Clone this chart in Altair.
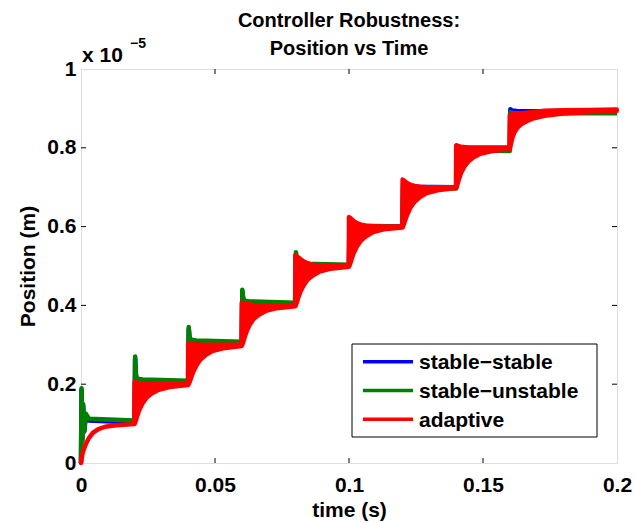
import altair as alt
import pandas as pd

# ---------------- data (position in units of 1e-5 m, time in s) ----------------
step_times = [0.0, 0.02, 0.04, 0.06, 0.08, 0.10, 0.12, 0.14, 0.16]
t_end = 0.2

# time offsets after each step for the two "stable" controllers
line_off = [0, 0.0002, 0.0005, 0.0008, 0.0012, 0.0018, 0.003, 0.0199]
blue_steps = [
    [0.000, 0.185, 0.060, 0.145, 0.080, 0.120, 0.108, 0.103],
    [0.103, 0.265, 0.220, 0.210, 0.208, 0.207, 0.206, 0.203],
    [0.203, 0.340, 0.315, 0.310, 0.308, 0.307, 0.306, 0.303],
    [0.303, 0.435, 0.415, 0.410, 0.407, 0.406, 0.405, 0.402],
    [0.402, 0.530, 0.512, 0.507, 0.505, 0.504, 0.503, 0.501],
    [0.501, 0.612, 0.608, 0.605, 0.603, 0.602, 0.601, 0.600],
    [0.600, 0.708, 0.705, 0.704, 0.703, 0.702, 0.701, 0.700],
    [0.700, 0.806, 0.804, 0.803, 0.802, 0.801, 0.800, 0.800],
    [0.800, 0.898, 0.896, 0.895, 0.894, 0.894, 0.893, 0.893],
]
blue_end = 0.893
green_steps = [
    [0.000, 0.190, 0.055, 0.150, 0.080, 0.125, 0.112, 0.108],
    [0.108, 0.270, 0.225, 0.216, 0.214, 0.213, 0.212, 0.209],
    [0.209, 0.345, 0.320, 0.315, 0.313, 0.312, 0.311, 0.308],
    [0.308, 0.440, 0.420, 0.415, 0.412, 0.411, 0.410, 0.407],
    [0.407, 0.535, 0.515, 0.510, 0.508, 0.507, 0.506, 0.503],
    [0.503, 0.615, 0.610, 0.606, 0.604, 0.603, 0.602, 0.600],
    [0.600, 0.705, 0.703, 0.702, 0.701, 0.700, 0.700, 0.697],
    [0.697, 0.800, 0.798, 0.797, 0.796, 0.795, 0.794, 0.792],
    [0.792, 0.890, 0.889, 0.889, 0.888, 0.888, 0.888, 0.888],
]
green_end = 0.888

# adaptive controller: oscillation envelope (lower / upper) after each step
red_off = [0, 0.0005, 0.001, 0.0018, 0.003, 0.0045, 0.0065, 0.009, 0.013, 0.0199, 0.0299, 0.0399]
red_lo_steps = [
    [0.000, 0.022, 0.034, 0.048, 0.064, 0.077, 0.086, 0.092, 0.096, 0.099],
    [0.099, 0.108, 0.120, 0.136, 0.152, 0.166, 0.177, 0.186, 0.193, 0.198],
    [0.198, 0.205, 0.215, 0.230, 0.247, 0.262, 0.274, 0.284, 0.291, 0.297],
    [0.297, 0.306, 0.318, 0.334, 0.352, 0.366, 0.377, 0.386, 0.393, 0.398],
    [0.398, 0.407, 0.418, 0.434, 0.450, 0.465, 0.476, 0.486, 0.493, 0.498],
    [0.498, 0.507, 0.518, 0.534, 0.550, 0.565, 0.576, 0.586, 0.593, 0.598],
    [0.598, 0.606, 0.617, 0.632, 0.649, 0.663, 0.675, 0.685, 0.692, 0.698],
    [0.698, 0.708, 0.720, 0.736, 0.752, 0.765, 0.776, 0.785, 0.791, 0.797],
    [0.797, 0.812, 0.826, 0.840, 0.852, 0.861, 0.868, 0.875, 0.881, 0.887, 0.891, 0.894],
]
red_hi_steps = [
    [0.000, 0.022, 0.034, 0.048, 0.064, 0.077, 0.086, 0.092, 0.096, 0.099],
    [0.205, 0.205, 0.204, 0.203, 0.202, 0.201, 0.200, 0.200, 0.200, 0.200],
    [0.304, 0.304, 0.303, 0.302, 0.301, 0.300, 0.300, 0.300, 0.300, 0.300],
    [0.407, 0.406, 0.405, 0.404, 0.402, 0.401, 0.400, 0.400, 0.400, 0.400],
    [0.527, 0.525, 0.522, 0.518, 0.512, 0.507, 0.503, 0.501, 0.500, 0.500],
    [0.624, 0.622, 0.619, 0.614, 0.609, 0.605, 0.602, 0.601, 0.600, 0.600],
    [0.719, 0.717, 0.714, 0.710, 0.706, 0.703, 0.701, 0.700, 0.700, 0.700],
    [0.806, 0.805, 0.804, 0.803, 0.802, 0.801, 0.800, 0.800, 0.800, 0.800],
    [0.883, 0.884, 0.885, 0.886, 0.887, 0.888, 0.889, 0.891, 0.894, 0.895, 0.896, 0.897],
]

series_names = ["stable\u2212stable", "stable\u2212unstable", "adaptive"]
series_colors = ["#0000ff", "#008000", "#ff0000"]
title_lines = ["Controller Robustness:", "Position vs Time"]

x_ticks = [0, 0.05, 0.1, 0.15, 0.2]
y_ticks = [0, 0.2, 0.4, 0.6, 0.8, 1]

# ---------------- tables ----------------
def line_table(steps, end_val):
    rows = []
    for t0, vals in zip(step_times, steps):
        for off, v in zip(line_off, vals):
            rows.append({"t": t0 + off, "pos": v})
    rows.append({"t": t_end, "pos": end_val})
    df = pd.DataFrame(rows)
    df["i"] = range(len(df))
    return df

blue_df = line_table(blue_steps, blue_end)
green_df = line_table(green_steps, green_end)

red_rows = []
for t0, lo, hi in zip(step_times, red_lo_steps, red_hi_steps):
    for off, a, b in zip(red_off, lo, hi):
        red_rows.append({"t": t0 + off, "pos": a, "hi": b})
red_df = pd.DataFrame(red_rows)

W, H = 536, 394
FONT = "Liberation Sans"

xscale = alt.Scale(domain=[0, 0.2], nice=False, zero=False)
yscale = alt.Scale(domain=[0, 1], nice=False, zero=False)

xaxis = alt.Axis(values=x_ticks, format="~g", ticks=False, domain=False, grid=False,
                 labelFont=FONT, labelFontWeight="bold", labelFontSize=21, labelColor="black",
                 labelPadding=11, labelFlush=False, labelOverlap=False,
                 title="time (s)", titleFont=FONT, titleFontWeight="bold", titleFontSize=21,
                 titleColor="black", titlePadding=4)
yaxis = alt.Axis(values=y_ticks, format="~g", ticks=False, domain=False, grid=False,
                 labelFont=FONT, labelFontWeight="bold", labelFontSize=21, labelColor="black",
                 labelPadding=5, labelFlush=False, labelOverlap=False,
                 title="Position (m)", titleFont=FONT, titleFontWeight="bold", titleFontSize=21,
                 titleColor="black", titlePadding=8)

X = alt.X("t:Q", scale=xscale, axis=xaxis)
Y = alt.Y("pos:Q", scale=yscale, axis=yaxis)

blue = alt.Chart(blue_df).mark_line(color=series_colors[0], strokeWidth=4.5, strokeJoin="round").encode(
    x=X, y=Y, order="i:Q")
green = alt.Chart(green_df).mark_line(color=series_colors[1], strokeWidth=4.5, strokeJoin="round").encode(
    x=X, y=Y, order="i:Q")
red = alt.Chart(red_df).mark_area(color=series_colors[2], stroke=series_colors[2], strokeWidth=4.5,
                                  strokeJoin="round", opacity=1).encode(
    x=X, y=Y, y2="hi:Q")

# inward ticks on all four sides
xt_df = pd.DataFrame({"t": x_ticks[1:-1]})
yt_df = pd.DataFrame({"pos": y_ticks[1:-1]})
tick_style = dict(color="black", strokeWidth=1)
ticks = [
    alt.Chart(xt_df).mark_rule(**tick_style).encode(x=X, y=alt.value(H), y2=alt.value(H - 5)),
    alt.Chart(xt_df).mark_rule(**tick_style).encode(x=X, y=alt.value(0), y2=alt.value(5)),
    alt.Chart(yt_df).mark_rule(**tick_style).encode(y=Y, x=alt.value(0), x2=alt.value(5)),
    alt.Chart(yt_df).mark_rule(**tick_style).encode(y=Y, x=alt.value(W), x2=alt.value(W - 5)),
]

one = pd.DataFrame({"a": [0]})

# title (two centred lines)
titles = [
    alt.Chart(one).mark_text(text=line, font=FONT, fontWeight="bold", fontSize=20, align="center",
                             baseline="alphabetic", color="black").encode(
        x=alt.value(W / 2), y=alt.value(-42 + 27.5 * k))
    for k, line in enumerate(title_lines)
]

# exponent annotation
expo = [
    alt.Chart(one).mark_text(text="x 10", font=FONT, fontWeight="bold", fontSize=21, align="left",
                             baseline="alphabetic", color="black").encode(x=alt.value(1), y=alt.value(-7)),
    alt.Chart(one).mark_text(text="\u22125", font=FONT, fontWeight="bold", fontSize=14, align="left",
                             baseline="alphabetic", color="black").encode(x=alt.value(49), y=alt.value(-21)),
]

# legend box
leg = [alt.Chart(one).mark_rect(fill="white", stroke="black", strokeWidth=1).encode(
    x=alt.value(271), x2=alt.value(516), y=alt.value(275), y2=alt.value(368))]
for k, (name, col) in enumerate(zip(series_names, series_colors)):
    ly = 292.7 + k * 28.8
    leg.append(alt.Chart(one).mark_rule(color=col, strokeWidth=3.5).encode(
        x=alt.value(282), x2=alt.value(332), y=alt.value(ly)))
    leg.append(alt.Chart(one).mark_text(text=name, font=FONT, fontWeight="bold", fontSize=21,
                                        align="left", baseline="alphabetic", color="black").encode(
        x=alt.value(338), y=alt.value(ly + 7.6)))

chart = alt.layer(blue, green, red, *ticks, *titles, *expo, *leg).properties(
    width=W, height=H,
    padding={"left": 81, "top": 69, "right": 18, "bottom": 60},
    autosize="none",
).configure_view(stroke="black", strokeWidth=1).configure(background="white")

chart.save("out.html", embed_options={"renderer": "svg", "actions": False})
